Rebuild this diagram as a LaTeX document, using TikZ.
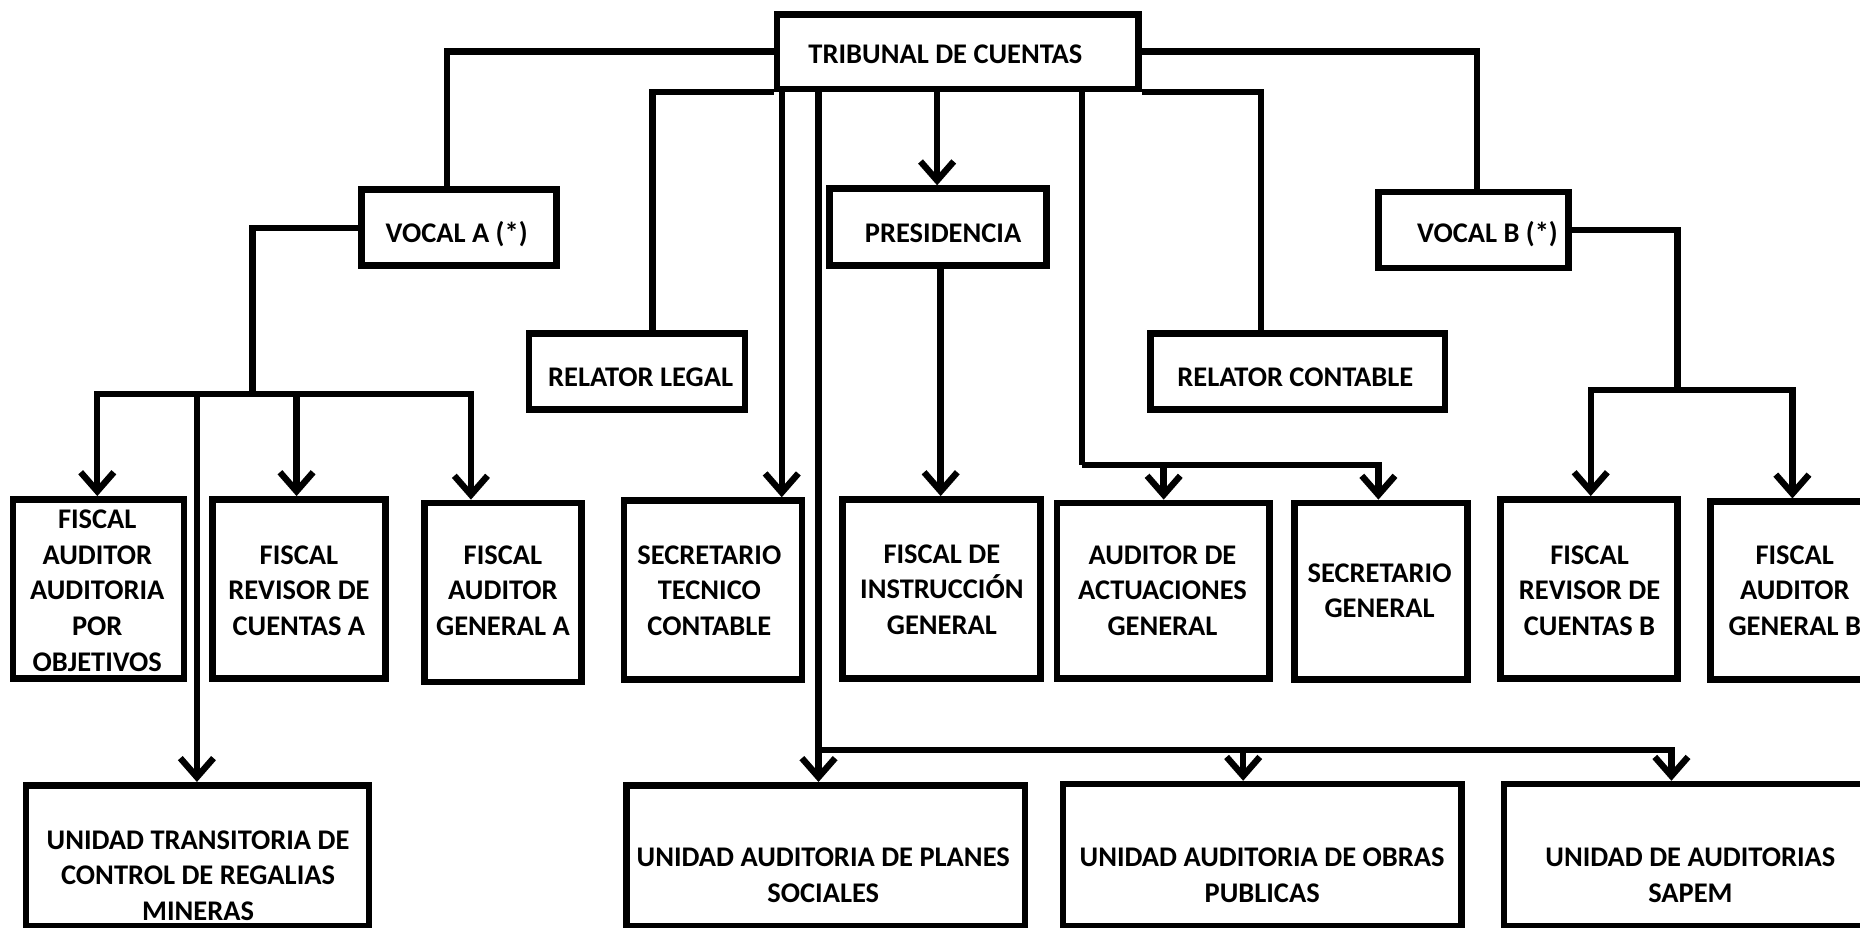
\documentclass[tikz,border=0pt]{standalone}
\usepackage{fontspec}
\setmainfont{Carlito}
\usetikzlibrary{arrows.meta,fit}
\begin{document}
\begin{tikzpicture}[x=0.5pt,y=-0.5pt,
  box/.style={draw,line width=2.8pt,inner sep=0pt,rectangle},
  txt/.style={font=\bfseries\fontsize{12}{15}\selectfont,align=center,inner sep=0pt},
  conn/.style={line width=2.7pt},
  arr/.style={conn,-{Straight Barb[length=8pt,width=14pt]}}]
\useasboundingbox (0,0) rectangle (1568,782);
\clip (0,0) rectangle (1568,782);
% boxes
\node[box,fit={(655,12)(960,75)}] (trib) {};
\node[box,fit={(305,160)(469,224)}] (vocA) {};
\node[box,fit={(699,159)(882,224)}] (pres) {};
\node[box,fit={(1162,162)(1322,226)}] (vocB) {};
\node[box,fit={(446,281)(628,345)}] (relL) {};
\node[box,fit={(970,281)(1218,345)}] (relC) {};
\node[box,fit={(11,421)(155,572)}] (fObj) {};
\node[box,fit={(179,421)(325,572)}] (fRevA) {};
\node[box,fit={(358,424)(490,575)}] (fGenA) {};
\node[box,fit={(526,422)(676,573)}] (secTC) {};
\node[box,fit={(710,421)(877,572)}] (fIns) {};
\node[box,fit={(891,424)(1070,572)}] (audAct) {};
\node[box,fit={(1091,424)(1237,573)}] (secGen) {};
\node[box,fit={(1265,421)(1414,572)}] (fRevB) {};
\node[box,fit={(1442,423)(1620,573)}] (fGenB) {};
\node[box,fit={(22,662)(311,781)}] (uTrans) {};
\node[box,fit={(528,662)(864,781)}] (uPlan) {};
\node[box,fit={(896,661)(1232,781)}] (uObras) {};
\node[box,fit={(1268,661)(1620,781)}] (uSap) {};
% texts
\node[txt] (tribT) at (797,46) {TRIBUNAL DE CUENTAS};
\node[txt] (vocAT) at (385,197) {VOCAL A (*)};
\node[txt] (presT) at (795,197) {PRESIDENCIA};
\node[txt] (vocBT) at (1254,197) {VOCAL B (*)};
\node[txt] (relLT) at (540,318) {RELATOR LEGAL};
\node[txt] (relCT) at (1092,318) {RELATOR CONTABLE};
\node[txt] (fObjT) at (82,498) {FISCAL\\AUDITOR\\AUDITORIA\\POR\\OBJETIVOS};
\node[txt] (fRevAT) at (252,498) {FISCAL\\REVISOR DE\\CUENTAS A};
\node[txt] (fGenAT) at (424,498) {FISCAL\\AUDITOR\\GENERAL A};
\node[txt] (secTCT) at (598,498) {SECRETARIO\\TECNICO\\CONTABLE};
\node[txt] (fInsT) at (794,497) {FISCAL DE\\INSTRUCCIÓN\\GENERAL};
\node[txt] (audActT) at (980,498) {AUDITOR DE\\ACTUACIONES\\GENERAL};
\node[txt] (secGenT) at (1163,498) {SECRETARIO\\GENERAL};
\node[txt] (fRevBT) at (1340,498) {FISCAL\\REVISOR DE\\CUENTAS B};
\node[txt] (fGenBT) at (1513,498) {FISCAL\\AUDITOR\\GENERAL B};
\node[txt] (uTransT) at (167,738) {UNIDAD TRANSITORIA DE\\CONTROL DE REGALIAS\\MINERAS};
\node[txt] (uPlanT) at (694,738) {UNIDAD AUDITORIA DE PLANES\\SOCIALES};
\node[txt] (uObrasT) at (1064,738) {UNIDAD AUDITORIA DE OBRAS\\PUBLICAS};
\node[txt] (uSapT) at (1425,738) {UNIDAD DE AUDITORIAS\\SAPEM};
% junctions
\coordinate (j1) at (690,632);
\coordinate (j2) at (912,392);
\coordinate (j3) at (213,332);
\coordinate (j4) at (1414,329);
% connectors
\draw[conn] (trib.west) -| (vocA.north -| 377,0);
\draw[conn] (trib.south west) -| (relL.north -| 550,0);
\draw[arr] (trib.south -| 659,0) -- (secTC.north -| 659,0);
\draw[arr] (trib.south -| 690,0) -- (uPlan.north -| 690,0);
\draw[arr] (j1) -| (uSap.north -| 1409,0);
\draw[arr] (j1 -| 1048,0) -- (uObras.north -| 1048,0);
\draw[arr] (trib.south -| 790,0) -- (pres.north -| 790,0);
\draw[arr] (pres.south -| 793,0) -- (fIns.north -| 793,0);
\draw[conn] (trib.south -| 912,0) -- (j2);
\draw[arr] (j2) -| (secGen.north -| 1162,0);
\draw[arr] (j2 -| 981,0) -- (audAct.north -| 981,0);
\draw[conn] (trib.south east) -| (relC.north -| 1063,0);
\draw[conn] (trib.east) -| (vocB.north -| 1245,0);
\draw[conn] (vocA.west) -| (j3);
\draw[arr] (j3) -| (fObj.north -| 82,0);
\draw[arr] (j3) -| (fGenA.north -| 397,0);
\draw[arr] (j3 -| 250,0) -- (fRevA.north -| 250,0);
\draw[arr] (j3 -| 166,0) -- (uTrans.north -| 166,0);
\draw[conn] (vocB.east) -| (j4);
\draw[arr] (j4) -| (fRevB.north -| 1341,0);
\draw[arr] (j4) -| (fGenB.north -| 1511,0);
\end{tikzpicture}
\end{document}
